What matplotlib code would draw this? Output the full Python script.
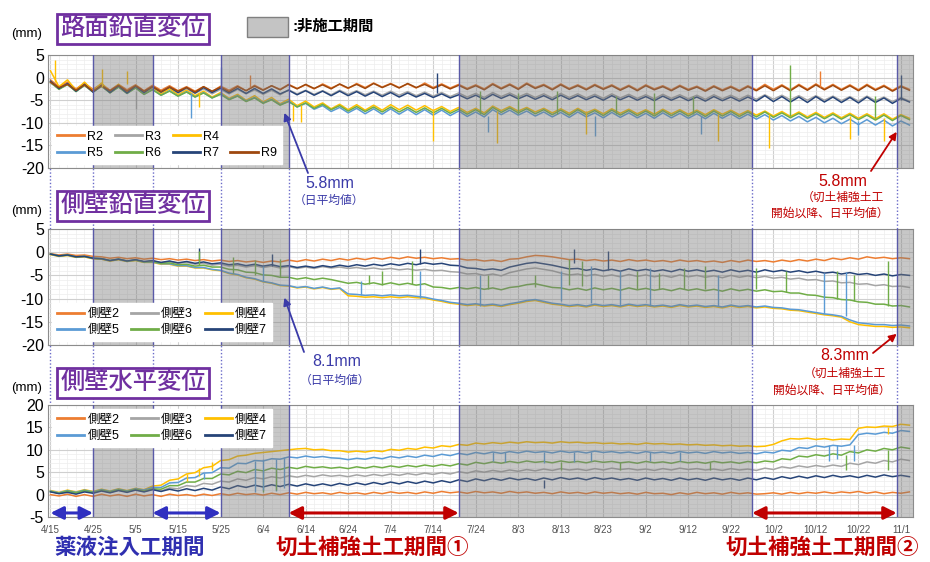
import numpy as np
import pandas as pd
import matplotlib
matplotlib.use('Agg')
import matplotlib.pyplot as plt
from matplotlib.patches import Rectangle
from matplotlib.lines import Line2D

plt.rcParams['font.family'] = ['Liberation Sans', 'Noto Sans CJK JP', 'DejaVu Sans']
plt.rcParams['axes.unicode_minus'] = False

# readings every 2 days from 4/15
dates = pd.date_range('2019-04-15', periods=102, freq='2D')

# ---- 路面鉛直変位 (mm) ----
r2 = [-0.5, -2.0, -1.0, -2.5, -1.2, -2.6, -1.4, -2.8, -1.5, -2.7,
      -1.6, -2.9, -1.7, -2.8, -1.8, -2.9, -2.0, -3.0, -2.0, -3.1,
      -1.9, -2.8, -1.8, -2.9, -1.7, -2.7, -1.8, -2.6, -1.5, -2.4,
      -1.6, -2.5, -1.4, -2.3, -1.5, -2.4, -1.3, -2.2, -1.2, -2.1,
      -1.3, -2.2, -1.4, -2.3, -1.2, -2.2, -1.4, -2.3, -1.5, -2.4,
      -1.6, -2.5, -1.3, -2.3, -1.4, -2.4, -1.2, -2.2, -1.5, -2.5,
      -1.4, -2.4, -1.6, -2.5, -1.5, -2.4, -1.6, -2.6, -1.7, -2.7,
      -1.6, -2.5, -1.8, -2.7, -1.7, -2.6, -1.9, -2.8, -1.8, -2.7,
      -1.9, -2.8, -1.8, -2.7, -1.5, -2.6, -1.6, -2.7, -1.5, -2.6,
      -1.4, -2.5, -1.5, -2.6, -1.6, -2.7, -1.5, -2.6, -1.7, -2.8,
      -1.8, -2.6]
r3 = [-1.2, -2.5, -1.6, -3.0, -1.8, -3.1, -2.0, -3.2, -2.1, -3.3,
      -2.2, -3.3, -2.3, -3.4, -2.4, -3.4, -2.5, -3.5, -2.5, -3.6,
      -2.6, -3.6, -2.6, -3.6, -2.7, -3.7, -2.8, -3.8, -2.7, -3.6,
      -2.8, -3.7, -2.9, -3.8, -2.8, -3.7, -2.9, -3.8, -3.0, -3.9,
      -3.0, -3.9, -3.1, -4.0, -3.2, -4.1, -3.3, -4.2, -3.4, -4.3,
      -3.5, -4.4, -3.3, -4.2, -3.4, -4.3, -3.5, -4.4, -3.6, -4.5,
      -3.5, -4.4, -3.6, -4.5, -3.7, -4.6, -3.6, -4.5, -3.7, -4.6,
      -3.8, -4.7, -3.7, -4.6, -3.8, -4.7, -3.9, -4.8, -3.8, -4.7,
      -3.9, -4.8, -3.9, -4.8, -3.8, -4.8, -3.9, -4.9, -4.0, -5.0,
      -4.0, -5.0, -4.1, -5.1, -4.2, -5.2, -4.1, -5.1, -4.3, -5.3,
      -4.4, -5.2]
r4 = [1.5, -2.0, -0.5, -2.8, -1.0, -3.0, -1.2, -3.2, -1.5, -3.3,
      -1.8, -3.5, -2.2, -3.6, -2.5, -3.8, -2.8, -4.0, -3.0, -4.3,
      -3.3, -4.6, -3.7, -5.0, -4.0, -5.4, -4.4, -5.8, -4.8, -6.2,
      -5.2, -6.5, -5.6, -6.9, -5.9, -7.1, -6.0, -7.2, -6.1, -7.2,
      -6.0, -7.1, -6.1, -7.2, -6.2, -7.3, -6.4, -7.5, -6.6, -7.7,
      -6.8, -7.8, -6.3, -7.3, -6.4, -7.4, -6.6, -7.6, -6.8, -7.8,
      -6.9, -7.9, -6.8, -7.8, -7.0, -8.0, -6.9, -7.9, -7.0, -8.0,
      -7.1, -8.1, -7.0, -8.0, -7.1, -8.1, -7.2, -8.2, -7.1, -8.1,
      -7.2, -8.2, -7.3, -8.3, -7.4, -8.5, -7.5, -8.6, -7.6, -8.7,
      -7.7, -8.8, -7.8, -8.9, -7.9, -9.0, -8.0, -9.1, -8.0, -9.2,
      -8.2, -9.0]
r5 = [-0.8, -2.5, -1.4, -3.0, -1.6, -3.2, -1.8, -3.3, -2.0, -3.5,
      -2.2, -3.7, -2.6, -3.9, -2.9, -4.1, -3.1, -4.3, -3.3, -4.5,
      -3.6, -4.8, -4.0, -5.2, -4.4, -5.6, -4.8, -6.0, -5.2, -6.5,
      -5.7, -7.0, -6.2, -7.5, -6.6, -7.8, -6.8, -8.0, -6.9, -8.1,
      -6.9, -8.1, -7.0, -8.2, -7.1, -8.3, -7.2, -8.4, -7.4, -8.6,
      -7.6, -8.7, -7.1, -8.2, -7.2, -8.3, -7.4, -8.5, -7.6, -8.7,
      -7.7, -8.8, -7.6, -8.7, -7.8, -8.9, -7.7, -8.8, -7.8, -8.9,
      -7.9, -9.0, -7.8, -8.9, -7.9, -9.0, -8.0, -9.1, -7.9, -9.0,
      -8.0, -9.1, -8.1, -9.2, -8.2, -9.4, -8.4, -9.6, -8.6, -9.8,
      -8.8, -10.0, -9.0, -10.2, -9.2, -10.4, -9.3, -10.5, -9.4, -10.7,
      -9.6, -10.5]
r6 = [-1.0, -2.6, -1.5, -3.1, -1.7, -3.2, -1.9, -3.4, -2.1, -3.5,
      -2.3, -3.7, -2.7, -3.9, -3.0, -4.1, -3.2, -4.3, -3.4, -4.5,
      -3.7, -4.9, -4.1, -5.3, -4.5, -5.7, -4.9, -6.1, -5.3, -6.5,
      -5.6, -6.8, -5.9, -7.1, -6.2, -7.4, -6.4, -7.5, -6.5, -7.6,
      -6.5, -7.6, -6.6, -7.7, -6.7, -7.8, -6.8, -7.9, -7.0, -8.1,
      -7.1, -8.2, -6.6, -7.7, -6.7, -7.8, -6.9, -8.0, -7.1, -8.2,
      -7.2, -8.3, -7.1, -8.2, -7.3, -8.4, -7.2, -8.3, -7.3, -8.4,
      -7.4, -8.5, -7.3, -8.4, -7.4, -8.5, -7.5, -8.6, -7.4, -8.5,
      -7.5, -8.6, -7.6, -8.7, -7.6, -8.8, -7.8, -8.9, -7.9, -9.0,
      -8.0, -9.1, -8.1, -9.2, -8.2, -9.3, -8.3, -9.4, -8.3, -9.5,
      -8.4, -9.3]
r7 = [-0.8, -2.4, -1.3, -3.0, -1.5, -3.2, -1.7, -3.3, -1.8, -3.4,
      -1.9, -3.3, -2.0, -3.2, -2.1, -3.3, -2.2, -3.4, -2.2, -3.3,
      -2.3, -3.4, -2.4, -3.5, -2.4, -3.5, -2.5, -3.6, -2.8, -3.8,
      -2.9, -3.9, -3.0, -4.0, -3.0, -4.0, -3.1, -4.1, -3.2, -4.2,
      -3.3, -4.3, -3.4, -4.3, -3.5, -4.4, -3.6, -4.5, -3.8, -4.7,
      -3.9, -4.8, -3.7, -4.6, -3.8, -4.7, -3.9, -4.8, -4.0, -4.9,
      -3.9, -4.8, -4.0, -4.9, -4.1, -5.0, -4.0, -4.9, -4.1, -5.0,
      -4.2, -5.1, -4.1, -5.0, -4.2, -5.1, -4.3, -5.2, -4.2, -5.1,
      -4.3, -5.2, -4.3, -5.2, -4.0, -5.3, -4.2, -5.4, -4.3, -5.5,
      -4.2, -5.4, -4.3, -5.5, -4.4, -5.6, -4.3, -5.5, -4.5, -5.7,
      -4.6, -5.4]
r9 = [-1.0, -2.2, -1.5, -2.8, -1.6, -3.0, -1.8, -2.9, -1.7, -3.0,
      -1.8, -3.0, -2.0, -3.1, -2.1, -3.0, -2.2, -3.2, -2.0, -3.0,
      -2.1, -3.1, -2.0, -2.9, -1.9, -2.8, -1.8, -2.7, -1.6, -2.5,
      -1.5, -2.4, -1.6, -2.5, -1.4, -2.3, -1.5, -2.4, -1.3, -2.2,
      -1.4, -2.3, -1.3, -2.2, -1.5, -2.4, -1.6, -2.5, -1.7, -2.6,
      -1.8, -2.7, -1.5, -2.5, -1.6, -2.6, -1.4, -2.4, -1.7, -2.7,
      -1.6, -2.6, -1.8, -2.7, -1.7, -2.6, -1.8, -2.8, -1.9, -2.9,
      -1.8, -2.7, -2.0, -2.9, -1.9, -2.8, -2.1, -3.0, -2.0, -2.9,
      -2.1, -3.0, -2.0, -2.9, -1.8, -2.9, -1.8, -2.9, -1.7, -2.8,
      -1.6, -2.7, -1.7, -2.8, -1.8, -2.9, -1.7, -2.8, -1.9, -3.0,
      -2.0, -2.8]

# ---- 側壁鉛直変位 (mm) ----
v2 = [-0.3, -0.6, -0.4, -0.7, -0.6, -0.9, -1.0, -1.3, -1.1, -1.4,
      -1.2, -1.5, -1.3, -1.6, -1.4, -1.7, -1.5, -1.8, -1.6, -1.9,
      -1.7, -2.0, -1.8, -2.1, -1.9, -2.2, -1.9, -2.1, -1.7, -2.0,
      -1.6, -1.9, -1.5, -1.8, -1.4, -1.7, -1.3, -1.6, -1.2, -1.5,
      -1.1, -1.4, -1.0, -1.3, -1.1, -1.4, -1.2, -1.5, -1.4, -1.7,
      -1.6, -1.9, -1.7, -2.0, -1.5, -1.4, -1.0, -0.7, -0.8, -1.0,
      -1.3, -1.6, -1.5, -1.8, -1.6, -1.9, -1.7, -2.0, -1.6, -1.9,
      -1.7, -2.0, -1.8, -2.1, -1.7, -2.0, -1.8, -2.1, -1.9, -2.2,
      -1.8, -2.1, -1.7, -2.0, -1.8, -2.1, -1.7, -2.0, -1.6, -1.9,
      -1.5, -1.8, -1.3, -1.6, -1.2, -1.5, -1.0, -1.3, -1.1, -1.4,
      -1.2, -1.4]
v3 = [-0.5, -0.9, -0.7, -1.1, -1.0, -1.4, -1.5, -1.9, -1.6, -2.0,
      -1.7, -2.1, -1.9, -2.3, -2.0, -2.4, -2.2, -2.6, -2.4, -2.8,
      -2.6, -3.0, -2.8, -3.2, -2.9, -3.3, -3.0, -3.4, -3.1, -3.5,
      -3.2, -3.5, -3.1, -3.4, -3.2, -3.5, -3.3, -3.6, -3.4, -3.7,
      -3.5, -3.8, -3.6, -3.9, -3.7, -4.0, -3.9, -4.2, -4.3, -4.7,
      -4.6, -5.0, -4.7, -5.1, -4.4, -4.0, -3.6, -3.4, -3.7, -4.0,
      -4.5, -4.9, -4.7, -5.1, -4.8, -5.2, -4.9, -5.3, -4.8, -5.2,
      -4.9, -5.3, -5.0, -5.4, -4.9, -5.3, -5.0, -5.4, -5.1, -5.5,
      -5.0, -5.4, -5.1, -5.5, -5.2, -5.6, -5.4, -5.8, -5.6, -6.0,
      -5.9, -6.3, -6.2, -6.6, -6.5, -6.9, -6.8, -7.2, -7.0, -7.4,
      -7.3, -7.6]
v4 = [-0.5, -0.9, -0.7, -1.1, -1.0, -1.4, -1.5, -1.9, -1.6, -2.0,
      -1.8, -2.2, -2.2, -2.6, -2.6, -3.0, -3.0, -3.4, -3.4, -3.8,
      -4.0, -4.6, -4.9, -5.5, -5.8, -6.4, -6.7, -7.2, -7.3, -7.7,
      -7.5, -7.9, -7.6, -8.0, -7.8, -9.4, -9.5, -9.7, -9.6, -9.8,
      -9.6, -9.8, -9.6, -9.8, -9.9, -10.3, -10.6, -11.0, -11.2, -11.5,
      -11.3, -11.6, -11.4, -11.7, -11.3, -11.0, -10.6, -10.4, -10.8, -11.2,
      -11.4, -11.7, -11.5, -11.8, -11.4, -11.7, -11.5, -11.8, -11.4, -11.7,
      -11.5, -11.8, -11.6, -11.9, -11.5, -11.8, -11.6, -11.9, -11.7, -12.0,
      -11.6, -11.9, -11.7, -12.0, -11.8, -12.1, -12.2, -12.5, -12.6, -12.9,
      -13.2, -13.5, -13.7, -14.0, -15.0, -15.6, -15.8, -16.0, -16.0, -16.2,
      -16.1, -16.3]
v5 = [-0.4, -0.8, -0.6, -1.0, -0.9, -1.3, -1.4, -1.8, -1.5, -1.9,
      -1.7, -2.1, -2.1, -2.5, -2.5, -2.9, -2.9, -3.3, -3.3, -3.7,
      -3.9, -4.5, -4.8, -5.4, -5.7, -6.3, -6.6, -7.1, -7.2, -7.6,
      -7.4, -7.8, -7.5, -7.9, -7.7, -9.0, -9.1, -9.3, -9.2, -9.4,
      -9.2, -9.4, -9.3, -9.5, -9.7, -10.1, -10.4, -10.8, -11.0, -11.3,
      -11.1, -11.4, -11.2, -11.5, -11.1, -10.8, -10.4, -10.2, -10.6, -11.0,
      -11.2, -11.5, -11.3, -11.6, -11.2, -11.5, -11.3, -11.6, -11.2, -11.5,
      -11.3, -11.6, -11.4, -11.7, -11.3, -11.6, -11.4, -11.7, -11.5, -11.8,
      -11.4, -11.7, -11.5, -11.8, -11.6, -11.9, -12.0, -12.3, -12.4, -12.7,
      -13.0, -13.3, -13.5, -13.8, -14.6, -15.2, -15.4, -15.6, -15.6, -15.8,
      -15.7, -15.9]
v6 = [-0.4, -0.8, -0.6, -1.0, -0.9, -1.3, -1.4, -1.8, -1.5, -1.9,
      -1.7, -2.1, -2.0, -2.4, -2.3, -2.7, -2.6, -3.0, -2.8, -3.2,
      -3.2, -3.7, -3.8, -4.3, -4.4, -4.9, -5.0, -5.4, -5.4, -5.8,
      -5.5, -5.9, -5.6, -5.9, -6.3, -6.7, -6.5, -6.9, -6.6, -7.0,
      -6.6, -7.0, -6.7, -7.1, -6.8, -7.5, -7.6, -7.9, -7.6, -7.9,
      -7.6, -8.0, -7.7, -8.1, -7.6, -7.4, -7.0, -6.8, -7.2, -7.6,
      -7.7, -8.1, -7.8, -8.2, -7.7, -8.1, -7.8, -8.2, -7.7, -8.1,
      -7.8, -8.2, -7.9, -8.3, -7.8, -8.2, -7.9, -8.3, -8.0, -8.4,
      -7.9, -8.3, -8.0, -8.4, -8.1, -8.5, -8.4, -8.8, -8.8, -9.2,
      -9.3, -9.7, -9.8, -10.2, -10.3, -10.7, -10.8, -11.2, -11.2, -11.6,
      -11.5, -11.8]
v7 = [-0.4, -0.8, -0.6, -1.0, -0.9, -1.3, -1.4, -1.8, -1.5, -1.9,
      -1.6, -2.0, -1.8, -2.2, -1.9, -2.3, -2.0, -2.4, -2.1, -2.5,
      -2.3, -2.7, -2.5, -2.9, -2.6, -3.0, -2.7, -3.1, -2.9, -3.3,
      -3.0, -3.3, -2.9, -3.2, -2.8, -3.1, -2.7, -3.0, -2.6, -2.9,
      -2.5, -2.8, -2.4, -2.7, -2.3, -2.6, -2.4, -2.8, -2.9, -3.4,
      -3.5, -3.8, -3.6, -3.9, -3.2, -2.8, -2.4, -2.2, -2.5, -2.8,
      -3.2, -3.6, -3.5, -3.9, -3.6, -4.0, -3.7, -4.1, -3.6, -4.0,
      -3.7, -4.1, -3.8, -4.2, -3.7, -4.1, -3.8, -4.2, -3.9, -4.3,
      -3.8, -4.2, -3.9, -4.3, -3.8, -4.2, -3.9, -4.3, -4.0, -4.4,
      -4.1, -4.5, -4.3, -4.7, -4.4, -4.8, -4.6, -5.0, -4.7, -5.1,
      -4.8, -5.0]

# ---- 側壁水平変位 (mm) ----
h2 = [0.0, -0.3, 0.1, -0.4, 0.0, -0.4, 0.1, -0.3, 0.0, -0.4,
      0.1, -0.3, 0.0, -0.4, 0.1, -0.2, 0.0, -0.3, 0.1, -0.2,
      0.2, -0.1, 0.3, 0.0, 0.2, -0.1, 0.3, 0.0, 0.4, 0.1,
      0.5, 0.2, 0.4, 0.1, 0.5, 0.2, 0.4, 0.1, 0.5, 0.2,
      0.6, 0.3, 0.5, 0.2, 0.6, 0.3, 0.7, 0.4, 0.6, 0.3,
      0.7, 0.4, 0.6, 0.3, 0.7, 0.4, 0.6, 0.3, 0.5, 0.2,
      0.6, 0.3, 0.5, 0.2, 0.6, 0.3, 0.5, 0.2, 0.4, 0.1,
      0.5, 0.2, 0.3, 0.0, 0.4, 0.1, 0.5, 0.2, 0.4, 0.1,
      0.5, 0.2, 0.4, 0.1, 0.2, 0.4, 0.1, 0.5, 0.2, 0.5,
      0.3, 0.6, 0.3, 0.6, 0.4, 0.7, 0.3, 0.6, 0.2, 0.5,
      0.3, 0.6]
h3 = [0.7, 0.3, 0.7, 0.3, 0.8, 0.4, 0.9, 0.5, 1.0, 0.6,
      1.1, 0.7, 1.2, 0.8, 1.5, 1.3, 2.0, 1.8, 2.5, 2.3,
      3.0, 2.8, 3.5, 3.2, 3.8, 3.5, 4.0, 3.7, 4.2, 3.9,
      4.3, 4.0, 4.4, 4.1, 4.3, 4.0, 4.4, 4.1, 4.5, 4.2,
      4.6, 4.3, 4.7, 4.4, 4.8, 4.5, 4.9, 4.6, 5.1, 4.8,
      5.3, 5.0, 5.4, 5.1, 5.5, 5.2, 5.6, 5.3, 5.7, 5.4,
      5.8, 5.5, 5.7, 5.4, 5.8, 5.5, 5.9, 5.6, 5.8, 5.5,
      5.7, 5.4, 5.8, 5.5, 5.9, 5.6, 5.8, 5.5, 5.7, 5.4,
      5.8, 5.5, 5.7, 5.4, 5.9, 5.6, 6.2, 5.9, 6.4, 6.1,
      6.5, 6.2, 6.6, 6.3, 7.0, 6.7, 7.3, 7.0, 7.6, 7.3,
      7.9, 7.6]
h4 = [0.9, 0.5, 1.0, 0.6, 1.1, 0.7, 1.2, 0.8, 1.3, 0.9,
      1.4, 1.1, 1.9, 2.1, 3.2, 3.5, 4.6, 4.9, 6.0, 6.3,
      7.6, 7.8, 8.6, 8.8, 9.2, 9.4, 9.6, 9.8, 10.0, 10.2,
      10.3, 10.0, 10.1, 9.8, 9.8, 9.5, 9.7, 9.5, 9.8, 9.6,
      10.1, 9.9, 10.3, 10.1, 10.6, 10.4, 10.9, 10.7, 11.2, 11.0,
      11.5, 11.3, 11.6, 11.4, 11.7, 11.5, 11.8, 11.6, 11.7, 11.5,
      11.8, 11.6, 11.7, 11.5, 11.6, 11.4, 11.5, 11.3, 11.4, 11.2,
      11.5, 11.3, 11.4, 11.2, 11.3, 11.1, 11.2, 11.0, 11.1, 10.9,
      11.0, 10.8, 10.9, 10.7, 10.8, 11.2, 12.0, 12.5, 12.4, 12.6,
      12.3, 12.5, 12.2, 12.4, 12.3, 14.8, 15.1, 15.0, 15.3, 15.2,
      15.7, 15.5]
h5 = [0.8, 0.4, 0.9, 0.5, 1.0, 0.6, 1.1, 0.7, 1.2, 0.8,
      1.3, 1.0, 1.6, 1.6, 2.6, 2.7, 3.7, 3.8, 4.8, 4.9,
      6.0, 5.9, 7.0, 6.9, 7.6, 7.5, 8.0, 7.9, 8.4, 8.2,
      8.6, 8.3, 8.5, 8.2, 8.1, 7.8, 8.1, 7.9, 8.3, 8.0,
      8.5, 8.2, 8.6, 8.3, 8.8, 8.5, 9.0, 8.7, 9.2, 8.9,
      9.4, 9.1, 9.5, 9.2, 9.6, 9.3, 9.7, 9.4, 9.6, 9.3,
      9.7, 9.4, 9.6, 9.3, 9.7, 9.4, 9.6, 9.3, 9.5, 9.2,
      9.6, 9.3, 9.5, 9.2, 9.6, 9.3, 9.5, 9.2, 9.6, 9.3,
      9.5, 9.2, 9.4, 9.1, 9.5, 9.3, 9.9, 9.7, 10.5, 10.3,
      10.9, 10.6, 11.0, 10.8, 11.1, 13.4, 13.7, 13.5, 13.9, 13.7,
      14.3, 14.1]
h6 = [0.7, 0.3, 0.8, 0.4, 0.9, 0.5, 1.0, 0.6, 1.1, 0.7,
      1.2, 0.8, 1.3, 1.2, 2.0, 2.0, 2.8, 2.8, 3.6, 3.6,
      4.6, 4.4, 5.2, 4.9, 5.6, 5.3, 5.9, 5.6, 6.1, 5.8,
      6.3, 6.0, 6.2, 5.9, 6.1, 5.8, 6.2, 5.9, 6.3, 6.0,
      6.4, 6.1, 6.5, 6.2, 6.6, 6.3, 6.7, 6.4, 6.9, 6.6,
      7.2, 6.9, 7.3, 7.0, 7.4, 7.1, 7.5, 7.2, 7.4, 7.1,
      7.5, 7.2, 7.4, 7.1, 7.5, 7.2, 7.4, 7.1, 7.3, 7.0,
      7.4, 7.1, 7.3, 7.0, 7.4, 7.1, 7.3, 7.0, 7.4, 7.1,
      7.3, 7.0, 7.4, 7.1, 7.5, 7.3, 8.0, 7.8, 8.6, 8.4,
      8.9, 8.6, 9.1, 8.8, 9.6, 9.3, 10.0, 9.7, 10.3, 10.0,
      10.6, 10.3]
h7 = [0.6, 0.2, 0.5, 0.1, 0.6, 0.3, 0.8, 0.4, 0.9, 0.5,
      1.0, 0.6, 1.1, 0.7, 1.2, 0.8, 1.3, 0.9, 1.4, 1.0,
      1.7, 1.3, 2.0, 1.6, 2.1, 1.7, 2.2, 1.8, 2.3, 1.9,
      2.4, 2.0, 2.4, 2.0, 2.5, 2.1, 2.6, 2.2, 2.7, 2.3,
      2.8, 2.4, 2.9, 2.5, 3.0, 2.6, 3.1, 2.7, 3.3, 2.9,
      3.5, 3.1, 3.6, 3.2, 3.7, 3.3, 3.6, 3.2, 3.7, 3.3,
      3.8, 3.4, 3.7, 3.3, 3.8, 3.4, 3.7, 3.3, 3.6, 3.2,
      3.7, 3.3, 3.6, 3.2, 3.7, 3.3, 3.6, 3.2, 3.7, 3.3,
      3.6, 3.2, 3.7, 3.3, 3.8, 3.4, 4.0, 3.6, 4.1, 3.7,
      4.2, 3.8, 4.3, 3.9, 4.2, 3.8, 4.3, 3.9, 4.4, 4.0,
      4.3, 4.0]

# short spikes (date, series, from, to)
p1_spike_date = ['04-16', '04-27', '05-03', '05-05', '05-18', '05-20', '05-25', '06-01',
                 '06-11', '06-13', '07-14', '07-15', '07-25', '07-27', '07-29', '08-03',
                 '08-12', '08-19', '08-21', '08-26', '09-04', '09-13', '09-15', '09-19',
                 '10-01', '10-06', '10-13', '10-20', '10-22', '10-26', '10-28', '11-01']
p1_spike_ser = ['R4', 'R4', 'R4', 'R3', 'R5', 'R4', 'R5', 'R2',
                'R4', 'R4', 'R4', 'R7', 'R6', 'R5', 'R4', 'R6',
                'R6', 'R4', 'R5', 'R6', 'R6', 'R6', 'R5', 'R4',
                'R4', 'R6', 'R2', 'R4', 'R5', 'R6', 'R4', 'R7']
p1_spike_from = [-1, -2, -1.5, -3, -3.5, -3.5, -4, -2, -6, -6, -7, -3.5, -8, -8.5, -7.5, -8,
                 -8, -7.5, -8.5, -8, -8, -8, -8.5, -8, -8, -8.5, -2, -8.5, -9.5, -9, -9, -5]
p1_spike_to = [4, 2, 1.5, -7, -9, -6.5, 2.3, 0.5, -9.5, -9.8, -14, 1, -3, -12, -14.5, -3.5,
               -3, -12.5, -13, -4, -3.5, -4, -12.5, -14, -15.5, 2.8, 1.5, -13.5, -12.8, -4, -14, 0.5]

p2_spike_date = ['05-20', '05-20', '05-28', '06-02', '06-04', '06-06', '06-08', '06-27',
                 '06-29', '07-02', '07-09', '07-11', '07-11', '07-25', '07-27', '08-07',
                 '08-13', '08-15', '08-16', '08-18', '08-20', '08-24', '08-27', '08-31',
                 '09-03', '09-05', '09-11', '09-16', '09-19', '09-28', '10-05', '10-14',
                 '10-17', '10-19', '10-21', '10-29']
p2_spike_ser = ['側壁7', '側壁6', '側壁6', '側壁6', '側壁5', '側壁7', '側壁6', '側壁5',
                '側壁6', '側壁6', '側壁6', '側壁7', '側壁5', '側壁5', '側壁6', '側壁6',
                '側壁5', '側壁6', '側壁7', '側壁6', '側壁5', '側壁7', '側壁5', '側壁6',
                '側壁5', '側壁6', '側壁6', '側壁6', '側壁5', '側壁6', '側壁6', '側壁5',
                '側壁6', '側壁5', '側壁6', '側壁6']
p2_spike_from = [-2.2, -2.8, -4.5, -5.0, -6.3, -3.0, -5.4, -9.3, -6.8, -7.0, -6.8, -2.5,
                 -9.8, -11.5, -8.0, -7.6, -10.5, -7.0, -2.4, -7.2, -11.0, -3.8, -11.5, -8.0,
                 -11.5, -8.0, -8.0, -8.0, -11.6, -8.0, -8.5, -13.3, -10.0, -13.8, -10.5, -11.5]
p2_spike_to = [0.8, 0.2, -1.0, -1.7, -3.0, -0.3, -1.5, -6.3, -5.0, -4.0, -2.0, 0.6,
               -4.0, -5.0, -5.0, -5.0, -4.0, -1.5, 0.6, -2.0, -3.0, 0.3, -4.0, -4.0,
               -3.5, -4.5, -3.5, -3.0, -5.0, -3.5, -4.0, -4.5, -4.0, -4.2, -5.0, -2.0]

p3_spike_date = ['05-17', '05-20', '05-23', '05-21', '06-02', '06-04', '06-04', '06-07',
                 '06-07', '06-09', '06-10', '07-28', '07-31', '08-09', '08-09', '08-13',
                 '08-16', '08-20', '08-27', '09-03', '09-10', '09-17', '10-15', '10-17',
                 '10-19', '10-21', '10-29', '10-29']
p3_spike_ser = ['側壁4', '側壁4', '側壁4', '側壁5', '側壁5', '側壁6', '側壁5', '側壁5',
                '側壁6', '側壁5', '側壁6', '側壁5', '側壁5', '側壁5', '側壁7', '側壁6',
                '側壁5', '側壁5', '側壁6', '側壁5', '側壁5', '側壁6', '側壁5', '側壁5',
                '側壁6', '側壁5', '側壁4', '側壁6']
p3_spike_from = [4.6, 6.0, 7.3, 4.8, 7.6, 5.6, 8.0, 8.0, 5.8, 8.3, 6.0, 9.5, 9.5, 9.6,
                 3.3, 7.3, 9.6, 9.6, 7.3, 9.5, 9.5, 7.2, 11.0, 11.0, 8.8, 11.0, 15.2, 10.0]
p3_spike_to = [3.0, 4.2, 5.5, 3.5, 0.5, 0.5, 1.0, 0.8, 1.0, 1.5, 2.0, 7.5, 7.2, 7.0,
               1.5, 5.5, 7.3, 7.5, 5.6, 7.4, 7.4, 5.5, 7.5, 8.0, 5.5, 7.6, 13.5, 5.5]

# periods
shade_start = ['2019-04-25', '2019-05-25', '2019-07-20', '2019-10-31']
shade_end = ['2019-05-09', '2019-06-10', '2019-09-27', '2019-11-05']
borders = ['2019-04-25', '2019-05-09', '2019-05-25', '2019-06-10', '2019-07-20',
           '2019-09-27', '2019-10-31']
work_start = ['2019-04-15', '2019-05-09', '2019-06-10', '2019-09-27']
work_end = ['2019-04-25', '2019-05-25', '2019-07-20', '2019-10-31']
tick_dates = pd.date_range('2019-04-15', '2019-11-01', freq='10D')

col = {'2': '#ED7D31', '3': '#A5A5A5', '4': '#FFC000', '5': '#5B9BD5',
       '6': '#70AD47', '7': '#264478', '9': '#9E480E'}

panels = [
    {'names': ['R2', 'R3', 'R4', 'R5', 'R6', 'R7', 'R9'],
     'data': [r2, r3, r4, r5, r6, r7, r9], 'ylim': (-20, 5),
     'spk': (p1_spike_date, p1_spike_ser, p1_spike_from, p1_spike_to)},
    {'names': ['側壁2', '側壁3', '側壁4', '側壁5', '側壁6', '側壁7'],
     'data': [v2, v3, v4, v5, v6, v7], 'ylim': (-20, 5),
     'spk': (p2_spike_date, p2_spike_ser, p2_spike_from, p2_spike_to)},
    {'names': ['側壁2', '側壁3', '側壁4', '側壁5', '側壁6', '側壁7'],
     'data': [h2, h3, h4, h5, h6, h7], 'ylim': (-5, 20),
     'spk': (p3_spike_date, p3_spike_ser, p3_spike_from, p3_spike_to)},
]

W, H = 930, 562
def fx(p):
    return p / W
def fy(p):
    return 1 - p / H

fig = plt.figure(figsize=(9.3, 5.62), dpi=100)
xl = (pd.Timestamp('2019-04-14 10:00'), pd.Timestamp('2019-11-03 20:00'))

# dotted period lines between the panels
bg = fig.add_axes([fx(48), fy(517), fx(913) - fx(48), fy(55) - fy(517)], zorder=0)
bg.set_xlim(xl)
bg.set_ylim(0, 1)
bg.axis('off')
for b in ['2019-04-15'] + borders:
    bg.axvline(pd.Timestamp(b), color='#6a6ac8', lw=1, ls=(0, (1, 1.5)))

tops = [55, 229, 405]
bots = [168, 345, 517]
axes = []
for i, p in enumerate(panels):
    ax = fig.add_axes([fx(48), fy(bots[i]), fx(913) - fx(48), fy(tops[i]) - fy(bots[i])], zorder=1)
    ax.set_facecolor('white')
    lines = {}
    for name, vals in zip(p['names'], p['data']):
        c = col[name[-1]]
        lines[name], = ax.plot(dates, vals, color=c, lw=1.1, label=name, zorder=2)
    sd, ss, sf, st = p['spk']
    ax.vlines(pd.to_datetime(['2019-' + d for d in sd]), sf, st,
              colors=[col[s[-1]] for s in ss], lw=1.0, zorder=2)
    for a, b in zip(shade_start, shade_end):
        ax.axvspan(pd.Timestamp(a), pd.Timestamp(b), color='#7a7a7a', alpha=0.42, lw=0, zorder=3)
    for b in borders:
        ax.axvline(pd.Timestamp(b), color='#5a5aa8', lw=1.0, zorder=4)
    ax.set_xlim(xl)
    ax.set_ylim(p['ylim'])
    ax.set_yticks(np.arange(p['ylim'][0], p['ylim'][1] + 1, 5))
    ax.set_yticks(np.arange(p['ylim'][0], p['ylim'][1] + 1, 1), minor=True)
    ax.set_xticks(tick_dates)
    ax.set_xticks(pd.date_range('2019-04-15', '2019-11-03', freq='2D'), minor=True)
    ax.grid(which='major', color='#cfcfcf', lw=0.8)
    ax.grid(which='minor', color='#ededed', lw=0.5)
    ax.set_axisbelow(True)
    ax.tick_params(which='both', length=0)
    ax.tick_params(axis='y', labelsize=11.5, pad=3)
    for s in ax.spines.values():
        s.set_color('#8c8c8c')
    if i < 2:
        ax.set_xticklabels([])
    else:
        ax.set_xticklabels([f'{d.month}/{d.day}' for d in tick_dates], fontsize=7, color='#505050')
        ax.tick_params(axis='x', pad=6)
    # legend in rows like the original
    n = p['names']
    opts = dict(fontsize=9, handlelength=2.2, handletextpad=0.25, columnspacing=0.9,
                labelspacing=0.35, borderpad=0.4, borderaxespad=0.3, frameon=True,
                fancybox=False, framealpha=1, facecolor='white', edgecolor='white')
    if i == 0:
        blank = Line2D([], [], color='none')
        hs = [lines['R2'], lines['R5'], lines['R3'], lines['R6'], lines['R4'], lines['R7'], blank, lines['R9']]
        ls = ['R2', 'R5', 'R3', 'R6', 'R4', 'R7', '', 'R9']
        leg = ax.legend(hs, ls, ncol=4, loc='lower left', bbox_to_anchor=(0.0, 0.0), **opts)
    else:
        hs = [lines[n[0]], lines[n[3]], lines[n[1]], lines[n[4]], lines[n[2]], lines[n[5]]]
        ls = [n[0], n[3], n[1], n[4], n[2], n[5]]
        loc = 'lower left' if i == 1 else 'upper left'
        anchor = (0.0, 0.0) if i == 1 else (0.0, 1.0)
        leg = ax.legend(hs, ls, ncol=3, loc=loc, bbox_to_anchor=anchor, **opts)
    for h in leg.legend_handles:
        h.set_linewidth(2.0)
    leg.set_zorder(6)
    axes.append(ax)

# period arrows at the bottom
ax3 = axes[2]
arrow_cols = ['#2f2fc0', '#2f2fc0', '#c00000', '#c00000']
for a, b, c in zip(work_start, work_end, arrow_cols):
    ax3.annotate('', xy=(pd.Timestamp(b), -4.1), xytext=(pd.Timestamp(a), -4.1),
                 arrowprops=dict(arrowstyle='<|-|>', color=c, lw=2.2, mutation_scale=19,
                                 shrinkA=0, shrinkB=0), zorder=7, annotation_clip=False)

# callout arrows
ann = [(0, '2019-06-09', -7.8, 308, 173, '#3a3aa8'),
       (0, '2019-10-31', -12.0, 871, 171, '#c00000'),
       (1, '2019-06-09', -9.8, 304, 352, '#3a3aa8'),
       (1, '2019-10-31', -17.6, 873, 353, '#c00000')]
for k, d, v, tx, ty, c in ann:
    axes[k].annotate('', xy=(pd.Timestamp(d), v), xytext=(fx(tx), fy(ty)),
                     textcoords='figure fraction',
                     arrowprops=dict(arrowstyle='-|>', color=c, lw=1.3, mutation_scale=11,
                                     shrinkA=0, shrinkB=0),
                     zorder=8, annotation_clip=False)

blue = '#3a3aa8'
red = '#c00000'
purple = '#7030a0'

fig.text(fx(330), fy(183), '5.8mm', color=blue, fontsize=11.5, ha='center', va='center')
fig.text(fx(329), fy(201), '（日平均値）', color=blue, fontsize=8.5, ha='center', va='center')
fig.text(fx(337), fy(362), '8.1mm', color=blue, fontsize=11.5, ha='center', va='center')
fig.text(fx(335), fy(381), '（日平均値）', color=blue, fontsize=8.5, ha='center', va='center')
fig.text(fx(843), fy(181), '5.8mm', color=red, fontsize=11.5, ha='center', va='center')
fig.text(fx(843), fy(198), '（切土補強土工', color=red, fontsize=8.5, ha='center', va='center')
fig.text(fx(830), fy(214), '開始以降、日平均値）', color=red, fontsize=8.5, ha='center', va='center')
fig.text(fx(845), fy(356), '8.3mm', color=red, fontsize=11.5, ha='center', va='center')
fig.text(fx(845), fy(374), '（切土補強土工', color=red, fontsize=8.5, ha='center', va='center')
fig.text(fx(832), fy(391), '開始以降、日平均値）', color=red, fontsize=8.5, ha='center', va='center')

titles = ['路面鉛直変位', '側壁鉛直変位', '側壁水平変位']
title_y = [29, 206, 383]
for t, y in zip(titles, title_y):
    fig.text(fx(133), fy(y), t, color=purple, fontsize=17.5, fontweight='medium',
             ha='center', va='center',
             bbox=dict(boxstyle='square,pad=0.15', fc='white', ec=purple, lw=2), zorder=5)
    fig.text(fx(27), fy(y + 5), '(mm)', color='black', fontsize=9.5, ha='center', va='center')

fig.patches.append(Rectangle((fx(247), fy(37)), fx(288) - fx(247), fy(17) - fy(37),
                             transform=fig.transFigure, fc='#c4c4c4', ec='#808080', lw=1))
fig.text(fx(292), fy(27), ':非施工期間', fontsize=11, fontweight='bold', ha='left', va='center')

fig.text(fx(130), fy(548), '薬液注入工期間', color='#2f2fb0', fontsize=15.5, fontweight='bold',
         ha='center', va='center')
fig.text(fx(372), fy(548), '切土補強土工期間①', color=red, fontsize=15.5, fontweight='bold',
         ha='center', va='center')
fig.text(fx(822), fy(548), '切土補強土工期間②', color=red, fontsize=15.5, fontweight='bold',
         ha='center', va='center')

fig.savefig('out.png', dpi=100)
